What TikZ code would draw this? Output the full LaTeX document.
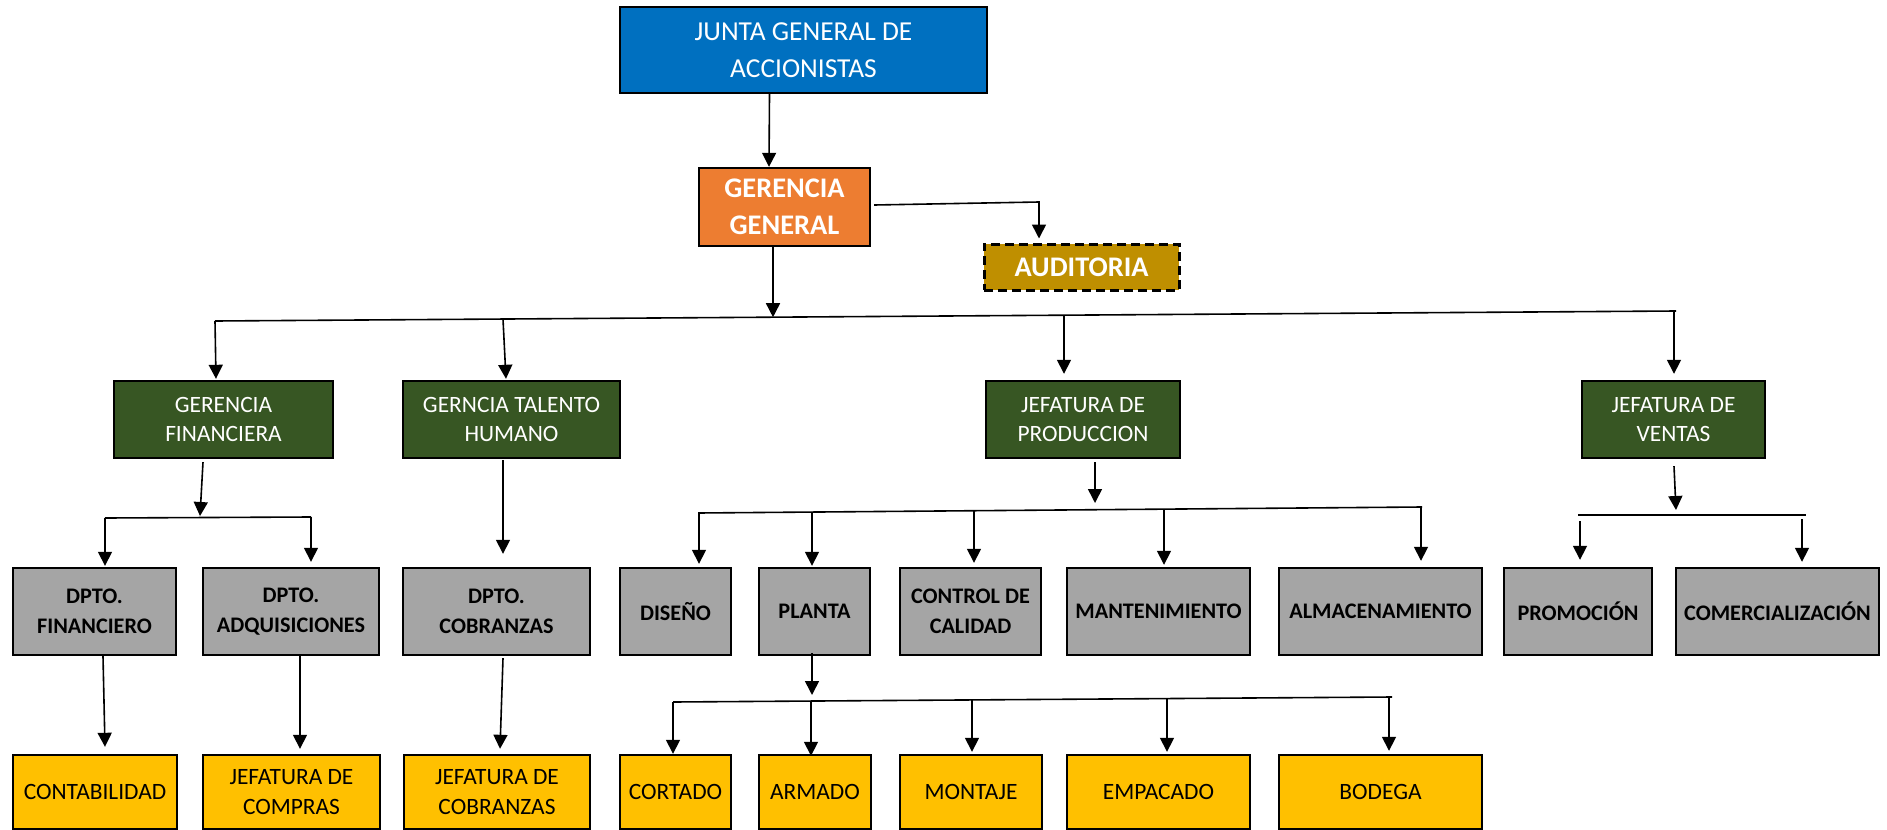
\documentclass[tikz,border=0pt]{standalone}
\usepackage{fontspec}
\setmainfont{Carlito}
\usetikzlibrary{arrows.meta,calc}
\definecolor{cBlue}{HTML}{0070C0}
\definecolor{cOrange}{HTML}{ED7D31}
\definecolor{cGold}{HTML}{BF8F00}
\definecolor{cGreen}{HTML}{375623}
\definecolor{cGray}{HTML}{A5A5A5}
\definecolor{cYellow}{HTML}{FFC000}
\begin{document}
\begin{tikzpicture}[x=1bp,y=-1bp,
  box/.style={draw=black,line width=2.4bp,inner sep=0pt,align=center},
  wh/.style 2 args={minimum width=#1bp,minimum height=#2bp},
  jbox/.style={box,fill=cBlue,text=white,font=\fontsize{27.5}{37}\selectfont},
  obox/.style={box,fill=cOrange,text=white,font=\bfseries\fontsize{28.5}{37}\selectfont},
  abox/.style={box,fill=cGold,text=white,line width=3bp,dash pattern=on 9bp off 5bp,font=\bfseries\fontsize{28.5}{32}\selectfont},
  vbox/.style={box,fill=cGreen,text=white,font=\fontsize{23.5}{29}\selectfont},
  dbox/.style={box,fill=cGray,text=black,font=\bfseries\fontsize{22.3}{30}\selectfont},
  ybox/.style={box,fill=cYellow,text=black,font=\fontsize{23.5}{30}\selectfont},
  ln/.style={line width=1.6bp},
  arr/.style={ln,-{Triangle[width=14bp,length=14bp]}}
]
\useasboundingbox (0,0) rectangle (1887,830);

% top levels
\node[jbox,wh={367}{86}] (junta) at (803.5,50) {JUNTA GENERAL DE\\ACCIONISTAS};
\node[obox,wh={171}{78}] (gg) at (784.5,207) {GERENCIA\\GENERAL};
\node[abox,wh={195}{46}] (aud) at (1081.5,267) {AUDITORIA};

% managements
\node[vbox,wh={219}{77}] (gf)  at (223.5,419.5) {GERENCIA\\FINANCIERA};
\node[vbox,wh={217}{77}] (gth) at (511.5,419.5) {GERNCIA TALENTO\\HUMANO};
\node[vbox,wh={194}{77}] (jp)  at (1083,419.5) {JEFATURA DE\\PRODUCCION};
\node[vbox,wh={183}{77}] (jv)  at (1673.5,419.5) {JEFATURA DE\\VENTAS};

% departments
\node[dbox,wh={163}{87}] (dfin) at (94.5,611.5) {DPTO.\\FINANCIERO};
\node[dbox,wh={176}{87}] (dadq) at (291,611.5) {DPTO.\\ADQUISICIONES};
\node[dbox,wh={187}{87}] (dcob) at (496.5,611.5) {DPTO.\\COBRANZAS};
\node[dbox,wh={111}{87}] (dis)  at (675.5,611.5) {DISEÑO};
\node[dbox,wh={111}{87}] (pla)  at (814.5,611.5) {PLANTA};
\node[dbox,wh={141}{87}] (cal)  at (970.5,611.5) {CONTROL DE\\CALIDAD};
\node[dbox,wh={183}{87}] (man)  at (1158.5,611.5) {MANTENIMIENTO};
\node[dbox,wh={203}{87}] (alm)  at (1380.5,611.5) {ALMACENAMIENTO};
\node[dbox,wh={148}{87}] (pro)  at (1578,611.5) {PROMOCIÓN};
\node[dbox,wh={203}{87}] (com)  at (1777.5,611.5) {COMERCIALIZACIÓN};

% units
\node[ybox,wh={164}{74}] (cont) at (95,792) {CONTABILIDAD};
\node[ybox,wh={177}{74}] (comp) at (291.5,792) {JEFATURA DE\\COMPRAS};
\node[ybox,wh={186}{74}] (cobz) at (497,792) {JEFATURA DE\\COBRANZAS};
\node[ybox,wh={111}{74}] (cort) at (675.5,792) {CORTADO};
\node[ybox,wh={112}{74}] (arm)  at (815,792) {ARMADO};
\node[ybox,wh={142}{74}] (mont) at (971,792) {MONTAJE};
\node[ybox,wh={183}{74}] (emp)  at (1158.5,792) {EMPACADO};
\node[ybox,wh={203}{74}] (bod)  at (1380.5,792) {BODEGA};

% bus junctions
\coordinate (audk) at (1039,202);
\coordinate (busL) at (215,321);
\coordinate (busR) at (1676,311);
\coordinate (busG) at (773,317.2);
\coordinate (busT) at (503,319.2);
\coordinate (busP) at (1064,315.2);
\coordinate (busV) at (1674,311);
\coordinate (fL) at (105,518);
\coordinate (fR) at (311,517);
\coordinate (fM) at (200,517.5);
\coordinate (pL) at (698,513);
\coordinate (pR) at (1422,507);
\coordinate (pM) at (1095,509.7);
\coordinate (pPla) at (812,512.1);
\coordinate (pCal) at (974,510.7);
\coordinate (pMan) at (1164,509.1);
\coordinate (vL) at (1578,515);
\coordinate (vR) at (1806,515);
\coordinate (vM) at (1676,515);
\coordinate (tL) at (673,702);
\coordinate (tR) at (1392,697);
\coordinate (tM) at (812,701);
\coordinate (tArm) at (811,701);
\coordinate (tMon) at (972,699.9);
\coordinate (tEmp) at (1167,698.6);

% top connectors
\draw[arr] ($(junta.south)+(-34,0)$) -- ($(gg.north)+(-15.5,0)$);
\draw[arr] ($(gg.east)+(3,-2)$) -- (audk) -- ($(aud.north)+(-42.5,-4)$);
\draw[arr] ($(gg.south)+(-11.5,0)$) -- (busG);
\draw[ln] (busL) -- (busR);
\draw[arr] (busL) -- ($(gf.north)+(-7.5,-1)$);
\draw[arr] (busT) -- ($(gth.north)+(-5.5,-1)$);
\draw[arr] (busP) -- ($(jp.north)+(-19,-6)$);
\draw[arr] (busV) -- ($(jv.north)+(0.5,-6)$);

% finance
\draw[arr] ($(gf.south)+(-20.5,3)$) -- ($(fM)+(0,-1.5)$);
\draw[ln] (fL) -- (fR);
\draw[arr] (fL) -- ($(dfin.north)+(10.5,-1)$);
\draw[arr] (fR) -- ($(dadq.north)+(20,-5)$);

% human talent
\draw[arr] ($(gth.south)+(-8.5,1)$) -- ($(dcob.north)+(6.5,-13)$);

% production
\draw[arr] ($(jp.south)+(12,3)$) -- ($(pM)+(0,-6.7)$);
\draw[ln] (pL) -- (pR);
\draw[arr] ($(pL)+(1,0)$) -- ($(dis.north)+(23.5,-3)$);
\draw[arr] (pPla) -- ($(pla.north)+(-2.5,-1)$);
\draw[arr] (pCal) -- ($(cal.north)+(3.5,-4)$);
\draw[arr] (pMan) -- ($(man.north)+(5.5,-2)$);
\draw[arr] ($(pR)+(-1,0)$) -- ($(alm.north)+(40.5,-6)$);

% sales
\draw[arr] ($(jv.south)+(0.5,7)$) -- ($(vM)+(0,-5)$);
\draw[ln] (vL) -- (vR);
\draw[arr] ($(vL)+(2,6)$) -- ($(pro.north)+(2,-7)$);
\draw[arr] ($(vR)+(-4,4)$) -- ($(com.north)+(24.5,-5)$);

% departments to units
\draw[arr] ($(dfin.south)+(8.5,0)$) -- ($(cont.north)+(10,-7)$);
\draw[arr] ($(dadq.south)+(9,-2)$) -- ($(comp.north)+(8.5,-5)$);
\draw[arr] ($(dcob.south)+(6.5,2)$) -- ($(cobz.north)+(3,-5)$);

% plant
\draw[arr] ($(pla.south)+(-2.5,-3)$) -- ($(tM)+(0,-6)$);
\draw[ln] (tL) -- (tR);
\draw[arr] (tL) -- ($(cort.north)+(-2.5,0)$);
\draw[arr] (tArm) -- ($(arm.north)+(-4,2)$);
\draw[arr] (tMon) -- ($(mont.north)+(1,-2)$);
\draw[arr] (tEmp) -- ($(emp.north)+(8.5,-2)$);
\draw[arr] ($(tR)+(-3,0)$) -- ($(bod.north)+(8.5,-3)$);
\end{tikzpicture}
\end{document}
